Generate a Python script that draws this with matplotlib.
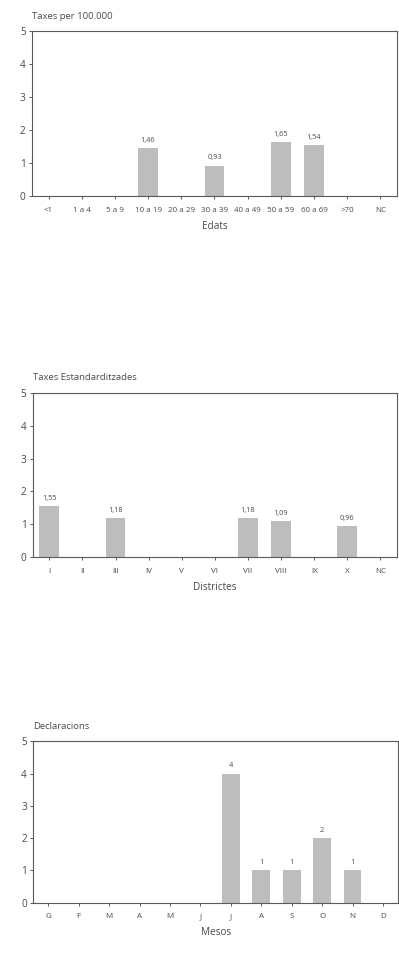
import matplotlib
matplotlib.use('Agg')
import matplotlib.pyplot as plt

plt.rcParams['font.family'] = ['Open Sans', 'DejaVu Sans']

# data
edats = ['<1', '1 a 4', '5 a 9', '10 a 19', '20 a 29', '30 a 39', '40 a 49', '50 a 59', '60 a 69', '>70', 'NC']
taxes_edats = [0, 0, 0, 1.46, 0, 0.93, 0, 1.65, 1.54, 0, 0]

districtes = ['I', 'II', 'III', 'IV', 'V', 'VI', 'VII', 'VIII', 'IX', 'X', 'NC']
taxes_districtes = [1.55, 0, 1.18, 0, 0, 0, 1.18, 1.09, 0, 0.96, 0]

mesos = ['G', 'F', 'M', 'A', 'M', 'J', 'J', 'A', 'S', 'O', 'N', 'D']
declaracions = [0, 0, 0, 0, 0, 0, 4, 1, 1, 2, 1, 0]

bar_color = '#bdbdbd'
edge_color = '#5a5a5a'
text_color = '#4a4a4a'

fig = plt.figure(figsize=(3.99, 9.68), dpi=100)


def draw_panel(rect, cats, vals, title, xlabel, fmt, width):
    ax = fig.add_axes(rect)
    x = range(len(cats))
    bars = ax.bar(x, vals, width=width, color=bar_color, zorder=2)
    labels = [fmt(v) if v else '' for v in vals]
    ax.bar_label(bars, labels=labels, padding=3, fontsize=5.3, color=text_color)
    ax.set_xlim(-0.5, len(cats) - 0.5)
    ax.set_ylim(0, 5)
    ax.set_yticks(range(6))
    ax.set_xticks(list(x))
    ax.set_xticklabels(cats, fontsize=5.8, color=text_color)
    ax.tick_params(axis='y', labelsize=7.2, colors=edge_color, labelcolor=text_color,
                   length=2.5, width=0.7, pad=2)
    ax.tick_params(axis='x', colors=edge_color, labelcolor=text_color,
                   length=2.5, width=0.7, pad=5)
    for s in ax.spines.values():
        s.set_color(edge_color)
        s.set_linewidth(0.8)
    ax.set_xlabel(xlabel, fontsize=7.2, color=text_color, labelpad=5)
    pos = ax.get_position()
    fig.text(pos.x0, pos.y1 + 15.0 / 968, title, fontsize=6.8, color=text_color,
             ha='left', va='center')
    return ax


comma = lambda v: ('%.2f' % v).replace('.', ',')
integer = lambda v: '%d' % v

draw_panel([0.080, 0.7972, 0.915, 0.1705], edats, taxes_edats,
           'Taxes per 100.000', 'Edats', comma, 0.6)
draw_panel([0.082, 0.4243, 0.913, 0.1700], districtes, taxes_districtes,
           'Taxes Estandarditzades', 'Districtes', comma, 0.6)
draw_panel([0.083, 0.0675, 0.915, 0.1667], mesos, declaracions,
           'Declaracions', 'Mesos', integer, 0.58)

fig.savefig('out.png', dpi=100)
